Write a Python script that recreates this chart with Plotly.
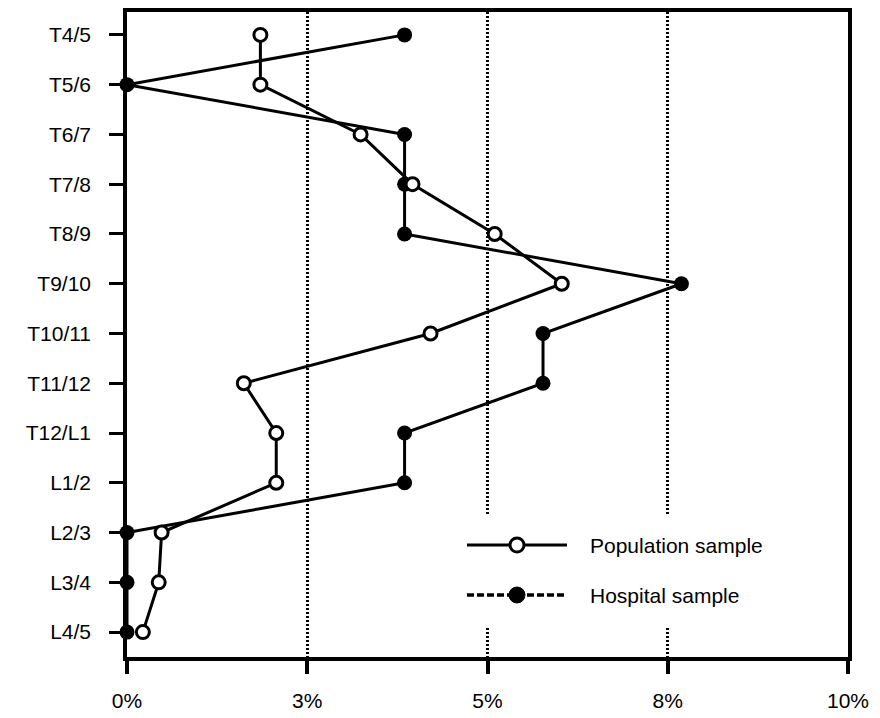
import plotly.graph_objects as go

levels = ["T4/5", "T5/6", "T6/7", "T7/8", "T8/9", "T9/10", "T10/11",
          "T11/12", "T12/L1", "L1/2", "L2/3", "L3/4", "L4/5"]
population = [1.85, 1.85, 3.24, 3.96, 5.10, 6.03, 4.21, 1.62, 2.07, 2.07, 0.48, 0.44, 0.22]
hospital = [3.85, 0.0, 3.85, 3.85, 3.85, 7.69, 5.77, 5.77, 3.85, 3.85, 0.0, 0.0, 0.0]
x_tickvals = [0, 2.5, 5, 7.5, 10]
x_ticktext = ["0%", "3%", "5%", "8%", "10%"]
legend_names = ["Population sample", "Hospital sample"]

FONT = "Liberation Sans, Arial, Helvetica, sans-serif"
FS = 21

fig = go.Figure()
fig.add_trace(go.Scatter(
    x=hospital, y=levels, mode="lines+markers", name=legend_names[1],
    line=dict(color="black", width=3),
    marker=dict(symbol="circle", size=15, color="black"),
    cliponaxis=False, showlegend=False))
fig.add_trace(go.Scatter(
    x=population, y=levels, mode="lines+markers", name=legend_names[0],
    line=dict(color="black", width=3),
    marker=dict(symbol="circle", size=13, color="white",
                line=dict(color="black", width=3)),
    cliponaxis=False, showlegend=False))

# manual legend (long sample lines like the original)
L, R, T, B = 127, 848, 12, 657
W, H = R - L, B - T
px = lambda x: (x - L) / W
py = lambda y: (B - y) / H

shapes = [
    dict(type="rect", xref="paper", yref="paper", x0=px(460), x1=px(812),
         y0=py(628), y1=py(515), fillcolor="white", line=dict(width=0), layer="above"),
    dict(type="line", xref="paper", yref="paper", x0=px(467), x1=px(567),
         y0=py(545), y1=py(545), line=dict(color="black", width=3), layer="above"),
    dict(type="line", xref="paper", yref="paper", x0=px(467), x1=px(567),
         y0=py(595), y1=py(595), line=dict(color="black", width=3.5, dash="7px,3px"),
         layer="above"),
    dict(type="circle", xref="paper", yref="paper", xsizemode="pixel", ysizemode="pixel",
         xanchor=px(517), yanchor=py(545), x0=-7, x1=7, y0=-7, y1=7,
         fillcolor="white", line=dict(color="black", width=3), layer="above"),
    dict(type="circle", xref="paper", yref="paper", xsizemode="pixel", ysizemode="pixel",
         xanchor=px(517), yanchor=py(595), x0=-8, x1=8, y0=-8, y1=8,
         fillcolor="black", line=dict(color="black", width=1), layer="above"),
]
annotations = [
    dict(xref="paper", yref="paper", x=px(588), y=py(545), text=legend_names[0],
         showarrow=False, xanchor="left", yanchor="middle",
         font=dict(family=FONT, size=FS, color="black")),
    dict(xref="paper", yref="paper", x=px(588), y=py(595), text=legend_names[1],
         showarrow=False, xanchor="left", yanchor="middle",
         font=dict(family=FONT, size=FS, color="black")),
]

fig.update_layout(
    width=880, height=718,
    margin=dict(l=L, r=880 - R, t=T, b=718 - B, autoexpand=False),
    paper_bgcolor="white", plot_bgcolor="white",
    font=dict(family=FONT, size=FS, color="black"),
    shapes=shapes, annotations=annotations,
    showlegend=False,
)
fig.update_xaxes(
    range=[0, 10], tickvals=x_tickvals, ticktext=x_ticktext,
    showline=True, linewidth=3.5, linecolor="black", mirror=True,
    ticks="outside", ticklen=13, tickwidth=3.5, tickcolor="black",
    showgrid=True, gridcolor="black", gridwidth=2.5, griddash="2px,2px",
    zeroline=False, ticklabelstandoff=9, automargin=False,
    tickfont=dict(family=FONT, size=FS, color="black"),
)
fig.update_yaxes(
    type="category", categoryorder="array", categoryarray=levels,
    range=[12.5, -0.46],
    showline=True, linewidth=3.5, linecolor="black", mirror=True,
    ticks="outside", ticklen=14, tickwidth=3, tickcolor="black",
    showgrid=False, zeroline=False, ticklabelstandoff=14, automargin=False,
    tickfont=dict(family=FONT, size=FS, color="black"),
)

fig.write_html("out.html")
